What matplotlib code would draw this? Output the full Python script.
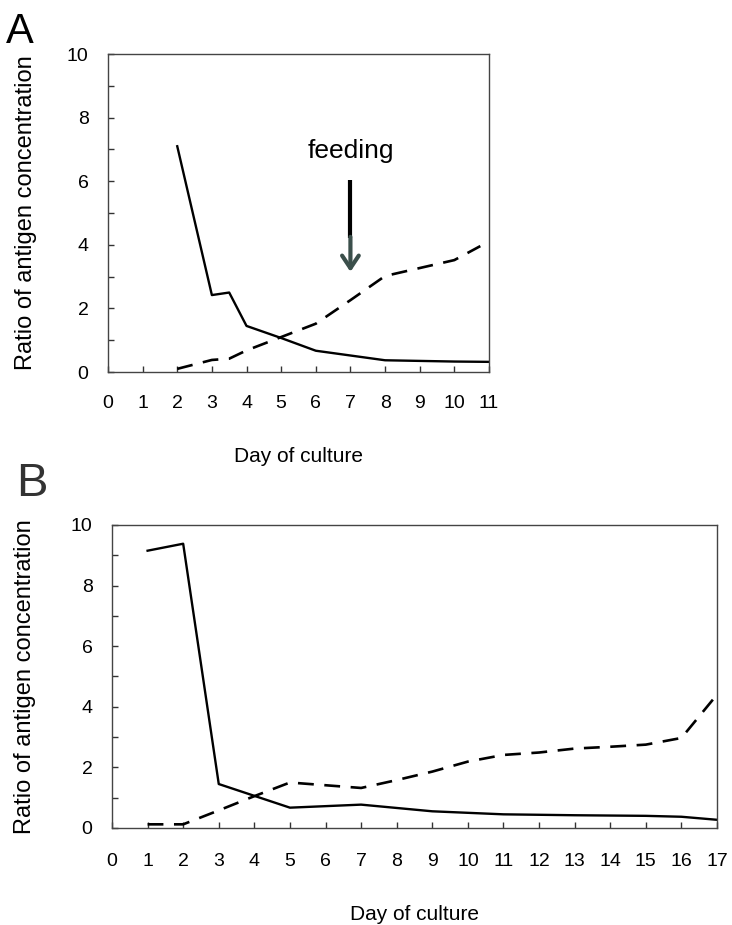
import matplotlib
matplotlib.use("Agg")
import matplotlib.pyplot as plt

plt.rcParams['font.family'] = ['Liberation Sans', 'DejaVu Sans']

# panel A
a_solid_x = [2, 3, 3.5, 4, 5, 6, 8, 10, 11]
a_solid_y = [7.1, 2.42, 2.5, 1.45, 1.07, 0.67, 0.37, 0.33, 0.32]
a_dash_x = [2, 3, 3.5, 4, 5, 6, 7, 8, 10, 10.75]
a_dash_y = [0.1, 0.38, 0.42, 0.68, 1.1, 1.52, 2.26, 3.02, 3.52, 3.96]
a_xticks = list(range(0, 12))

# panel B
b_solid_x = [1, 2, 3, 5, 7, 9, 11, 13, 15, 16, 17]
b_solid_y = [9.15, 9.38, 1.45, 0.67, 0.77, 0.55, 0.45, 0.42, 0.4, 0.37, 0.27]
b_dash_x = [1, 2, 3, 4, 5, 7, 8, 9, 10, 11, 12, 13, 14, 15, 16, 17]
b_dash_y = [0.12, 0.12, 0.58, 1.05, 1.5, 1.32, 1.58, 1.86, 2.19, 2.41, 2.49,
            2.62, 2.68, 2.75, 2.97, 4.4]
b_xticks = list(range(0, 18))

yticks = list(range(0, 11, 2))
ylabel = "Ratio of antigen concentration"
xlabel = "Day of culture"

fig = plt.figure(figsize=(7.32, 9.25), dpi=100)


def style(ax, xmax, xticks, xpad):
    ax.set_xlim(0, xmax)
    ax.set_ylim(0, 10)
    ax.set_xticks(xticks)
    ax.set_yticks(yticks)
    ax.set_yticks(range(0, 11), minor=True)
    ax.tick_params(axis='both', which='both', direction='in', length=4,
                   width=1, color='#333333')
    ax.tick_params(axis='x', labelsize=14, pad=xpad)
    ax.tick_params(axis='y', labelsize=14, pad=14)
    for s in ax.spines.values():
        s.set_linewidth(1)
        s.set_color('#444444')


axA = fig.add_axes([0.1475, 0.5978, 0.5205, 0.3438])
axA.plot(a_solid_x, a_solid_y, color='black', lw=1.7)
axA.plot(a_dash_x, a_dash_y, color='black', lw=1.9, dashes=(6, 4))
style(axA, 11, a_xticks, 16.5)
axA.set_ylabel(ylabel, fontsize=17)
axA.yaxis.set_label_coords(-0.187, 0.5)
axA.set_xlabel(xlabel, fontsize=15)
axA.xaxis.set_label_coords(0.5, -0.235)
axA.text(7, 6.95, "feeding", fontsize=19, ha='center', va='center')
# feeding arrow: black shaft, grey head
axA.plot([7, 7], [6.05, 4.2], color='black', lw=3, solid_capstyle='butt')
axA.annotate("", xy=(7, 3.15), xytext=(7, 4.25),
             arrowprops=dict(arrowstyle='->,head_length=0.9,head_width=0.6',
                             color='#3b4f4b', lw=3, shrinkA=0, shrinkB=0))
fig.text(0.008, 0.987, "A", fontsize=30, ha='left', va='top')

axB = fig.add_axes([0.153, 0.1049, 0.8265, 0.3276])
axB.plot(b_solid_x, b_solid_y, color='black', lw=1.7)
axB.plot(b_dash_x, b_dash_y, color='black', lw=1.9, dashes=(6, 4))
style(axB, 17, b_xticks, 18)
axB.set_ylabel(ylabel, fontsize=17)
axB.yaxis.set_label_coords(-0.125, 0.5)
axB.set_xlabel(xlabel, fontsize=15)
axB.xaxis.set_label_coords(0.5, -0.255)
fig.text(0.022, 0.501, "B", fontsize=34, ha='left', va='top', color='#333333')

fig.savefig("out.png", dpi=100)
